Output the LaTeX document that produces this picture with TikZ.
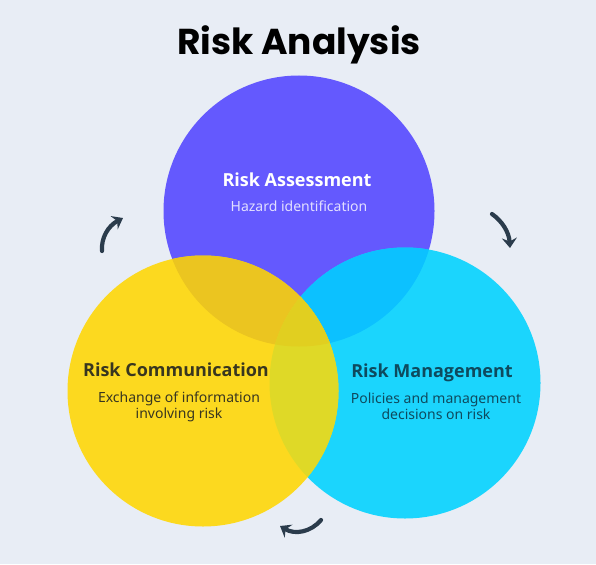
\documentclass[tikz,border=0pt]{standalone}
\usepackage{fontspec}
\setmainfont{Noto Sans}
\newfontfamily\headfont{Open Sans}
\newfontfamily\titlefont{Poppins}
\usetikzlibrary{arrows.meta}
\definecolor{bgc}{HTML}{E8EDF5}
\definecolor{purplec}{HTML}{6459FE}
\definecolor{yellowc}{HTML}{FCD91F}
\definecolor{cyanc}{HTML}{1BD5FD}
\definecolor{ypc}{HTML}{EBC520}
\definecolor{cpc}{HTML}{0CC1FF}
\definecolor{ycc}{HTML}{DFD927}
\definecolor{ycpc}{HTML}{E1CF20}
\definecolor{arrowc}{HTML}{2B3C4C}
\definecolor{ytext}{HTML}{38361F}
\definecolor{ctext}{HTML}{0E4A5E}
\definecolor{ptext}{HTML}{E2DFFF}
\tikzset{
  blob/.style={circle, inner sep=0pt, minimum size=271pt},
  head/.style={font=\headfont\fontsize{18}{21}\selectfont\bfseries, inner sep=0pt, anchor=base},
  sub/.style={font=\fontsize{14}{16}\selectfont, inner sep=0pt, anchor=base, align=center},
  cyc/.style={draw=arrowc, line width=4.2pt, line cap=round, -{Stealth[length=10pt,width=15pt,inset=3.5pt]}}
}
\begin{document}
\begin{tikzpicture}[x=1pt,y=-1pt]
\fill[bgc] (0,0) rectangle (596,564);
\useasboundingbox (0,0) rectangle (596,564);
\node[font=\titlefont\fontsize{36}{40}\selectfont\bfseries, anchor=base, inner sep=0pt] (title) at (299,55) {Risk Analysis};
\node[blob, fill=purplec] (ra) at (299,211) {};
\node[blob, fill=cyanc] (rm) at (405,383) {};
\begin{scope}
  \clip (ra.center) circle (135.5pt);
  \fill[cpc] (rm.center) circle (135.5pt);
\end{scope}
\node[blob, fill=yellowc] (rc) at (203,391) {};
\begin{scope}
  \clip (ra.center) circle (135.5pt);
  \fill[ypc] (rc.center) circle (135.5pt);
\end{scope}
\begin{scope}
  \clip (rm.center) circle (135.5pt);
  \fill[ycc] (rc.center) circle (135.5pt);
\end{scope}
\begin{scope}
  \clip (rm.center) circle (135.5pt);
  \clip (ra.center) circle (135.5pt);
  \fill[ycpc] (rc.center) circle (135.5pt);
\end{scope}
\node[head, text=white] (rat) at (297,186) {Risk Assessment};
\node[sub, text=ptext] (ras) at (299,211) {Hazard identification};
\node[head, text=ytext] (rct) at (176,376) {Risk Communication};
\node[sub, text=ytext] (rcs) at (179,418) {Exchange of information\\involving risk};
\node[head, text=ctext] (rmt) at (432,377) {Risk Management};
\node[sub, text=ctext] (rms) at (436,419) {Policies and management\\decisions on risk};
\coordinate (a1s) at (102,251);
\coordinate (a1e) at (123,218);
\coordinate (a2s) at (492,214);
\coordinate (a2e) at (510,248);
\coordinate (a3s) at (321,520);
\coordinate (a3e) at (280,526);
\draw[cyc] (a1s) .. controls (101,238) and (108,226) .. (a1e);
\draw[cyc] (a2s) .. controls (502,221) and (509,232) .. (a2e);
\draw[cyc] (a3s) .. controls (311,532) and (295,535) .. (a3e);
\end{tikzpicture}
\end{document}
